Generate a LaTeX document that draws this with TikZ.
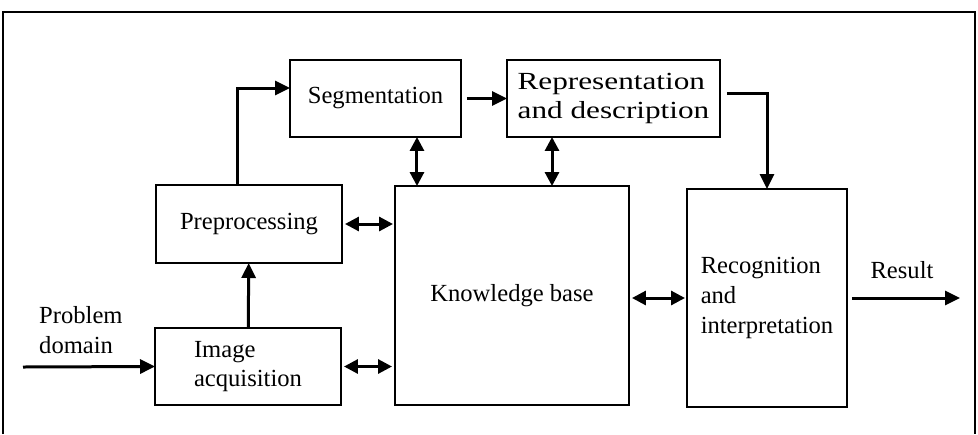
\documentclass[tikz,border=0pt]{standalone}
\usepackage{fontspec}
\setmainfont{Liberation Serif}
\usetikzlibrary{shapes,arrows.meta}

\begin{document}
\begin{tikzpicture}[x=0.02cm,y=-0.02cm]
  \tikzstyle{blk}=[draw,line width=0.035cm,inner sep=0pt,outer sep=0pt,align=left,font=\fontsize{14}{17}\selectfont]
  \tikzstyle{lbl}=[align=left,font=\fontsize{14}{17}\selectfont]
  \tikzstyle{flow}=[line width=0.06cm,-{Triangle[length=0.3cm,width=0.28cm]}]
  \tikzstyle{both}=[line width=0.06cm,{Triangle[length=0.28cm,width=0.28cm]}-{Triangle[length=0.28cm,width=0.28cm]}]
  \useasboundingbox (0,0) rectangle (978,434);
  \draw[line width=0.04cm] (3,434) -- (3,12) -- (975,12) -- (975,434);
  \node[blk,minimum width=3.42cm,minimum height=1.54cm] (seg) at (375.5,98.5) {Segmentation};
  \node[blk,minimum width=4.26cm,minimum height=1.54cm,font=\fontsize{14}{17}\selectfont\addfontfeatures{FakeStretch=1.27}] (rep) at (613.5,98.5) {Representation\\and description};
  \node[blk,minimum width=3.72cm,minimum height=1.56cm] (pre) at (249,224) {Preprocessing};
  \node[blk,minimum width=3.72cm,minimum height=1.54cm] (acq) at (248,366.5) {Image\\acquisition};
  \node[blk,minimum width=4.68cm,minimum height=4.38cm] (kb) at (512,295.5) {Knowledge base};
  \node[blk,minimum width=3.2cm,minimum height=4.36cm] (rec) at (767,298) {Recognition\\and\\interpretation};
  \node[lbl,anchor=west] (pd) at (33,330) {Problem\\domain};
  \node[lbl] (rl) at (902,270) {Result};
  \coordinate (src) at (23,367);
  \coordinate (res) at (960,298);
  \draw[flow] (src) -- (acq.west);
  \draw[flow] (acq) -- (pre);
  \draw[flow] ([xshift=-0.24cm]pre.north) |- ([yshift=0.21cm]seg.west);
  \draw[flow,shorten <=0.12cm] (seg) -- (rep);
  \draw[flow,shorten <=0.14cm] ([yshift=0.11cm]rep.east) -| (rec.north);
  \draw[flow,shorten <=0.1cm] (rec.east) -- (res);
  \draw[both] ([xshift=0.83cm]seg.south) -- ([xshift=0.83cm]seg.south |- kb.north);
  \draw[both] ([xshift=-1.23cm]rep.south) -- ([xshift=-1.23cm]rep.south |- kb.north);
  \draw[both,shorten <=0.06cm,shorten >=0.04cm] (pre.east) -- (pre.east -| kb.west);
  \draw[both,shorten <=0.06cm,shorten >=0.06cm] (acq.east) -- (acq.east -| kb.west);
  \draw[both,shorten <=0.06cm,shorten >=0.04cm] (kb.east |- rec) -- (rec.west);
\end{tikzpicture}
\end{document}
